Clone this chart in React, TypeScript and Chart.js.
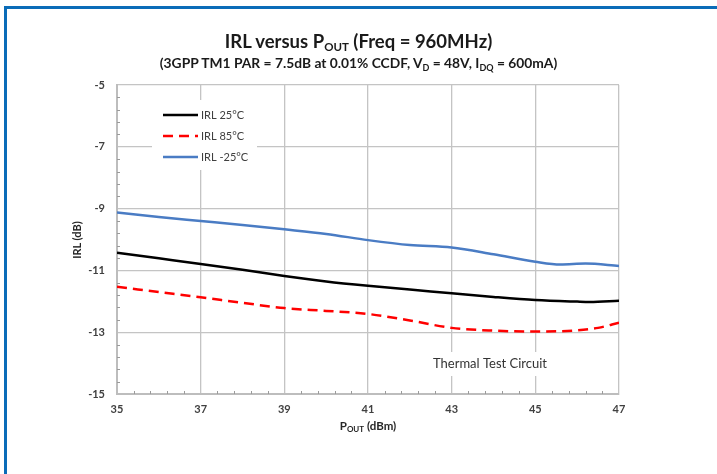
import React, { useEffect, useRef } from "react";
import { Chart, registerables } from "chart.js";
Chart.register(...registerables);

const xTicks = [35, 37, 39, 41, 43, 45, 47];
const yTicks = [-15, -13, -11, -9, -7, -5];

const pout25 = [35, 36, 37, 38, 39, 40, 41, 42, 43, 44, 45, 46, 46.3, 47];
const irl25 = [-10.43, -10.61, -10.79, -10.98, -11.18, -11.36, -11.5, -11.62, -11.74, -11.86, -11.96, -12.01, -12.02, -11.98];

const pout85 = [35, 36, 37, 38, 39, 40, 41, 42, 43, 44, 45, 46, 46.5, 47];
const irl85 = [-11.53, -11.7, -11.87, -12.05, -12.22, -12.31, -12.41, -12.62, -12.86, -12.95, -12.98, -12.94, -12.86, -12.69];

const poutM25 = [35, 36, 37, 38, 39, 40, 41, 42, 43, 44, 45, 45.6, 46.2, 47];
const irlM25 = [-9.13, -9.27, -9.4, -9.53, -9.67, -9.82, -10.02, -10.18, -10.26, -10.48, -10.72, -10.81, -10.78, -10.86];

const seriesNames = ["IRL 25°C", "IRL 85°C", "IRL -25°C"];
const annotationText = "Thermal Test Circuit";

const FONT = "Lato, 'Open Sans', sans-serif";

export default function App() {
  const ref = useRef<HTMLCanvasElement>(null);
  useEffect(() => {
    const canvas = ref.current!;
    const toPts = (xs: number[], ys: number[]) => xs.map((x, i) => ({ x, y: ys[i] }));

    const extras = {
      id: "extras",
      beforeDatasetsDraw(chart: any) {
        const { ctx, chartArea, scales } = chart;
        const xs = scales.x, ys = scales.y;
        ctx.save();
        ctx.strokeStyle = "#9a9a9a";
        ctx.lineWidth = 1;
        for (let i = 0; i <= 30; i++) {
          const v = 35 + i * 0.4;
          if (i % 5 === 0) continue;
          const px = Math.round(xs.getPixelForValue(v)) + 0.5;
          ctx.beginPath();
          ctx.moveTo(px, chartArea.bottom);
          ctx.lineTo(px, chartArea.bottom - 3);
          ctx.stroke();
        }
        for (let i = 0; i <= 25; i++) {
          const v = -15 + i * 0.4;
          if (i % 5 === 0) continue;
          const py = Math.round(ys.getPixelForValue(v)) + 0.5;
          ctx.beginPath();
          ctx.moveTo(chartArea.left, py);
          ctx.lineTo(chartArea.left + 3, py);
          ctx.stroke();
        }
        ctx.font = `13px ${FONT}`;
        const tw = ctx.measureText(annotationText).width;
        const cx = 490, cy = 364;
        ctx.fillStyle = "#ffffff";
        ctx.fillRect(cx - tw / 2 - 6, cy - 12, tw + 12, 24);
        ctx.fillStyle = "#333333";
        ctx.textAlign = "center";
        ctx.textBaseline = "middle";
        ctx.fillText(annotationText, cx, cy);
        ctx.restore();
      },
      afterDatasetsDraw(chart: any) {
        const { ctx } = chart;
        ctx.save();
        ctx.fillStyle = "#ffffff";
        ctx.fillRect(152, 100, 105, 70);
        const rows = [115, 136, 157];
        chart.data.datasets.forEach((ds: any, i: number) => {
          ctx.strokeStyle = ds.borderColor;
          ctx.lineWidth = ds.borderWidth;
          ctx.setLineDash(ds.borderDash || []);
          ctx.beginPath();
          ctx.moveTo(163, rows[i]);
          ctx.lineTo(198, rows[i]);
          ctx.stroke();
          ctx.setLineDash([]);
          ctx.fillStyle = "#404040";
          ctx.font = `11px ${FONT}`;
          ctx.textAlign = "left";
          ctx.textBaseline = "middle";
          ctx.fillText(ds.label, 201, rows[i] + 0.5);
        });
        ctx.restore();
      },
    };

    const chart = new Chart(canvas, {
      type: "line",
      data: {
        datasets: [
          {
            label: seriesNames[0],
            data: toPts(pout25, irl25),
            borderColor: "#000000",
            borderWidth: 2.5,
            pointRadius: 0,
            cubicInterpolationMode: "monotone",
          },
          {
            label: seriesNames[1],
            data: toPts(pout85, irl85),
            borderColor: "#ff0000",
            borderWidth: 2.5,
            borderDash: [10, 6],
            pointRadius: 0,
            cubicInterpolationMode: "monotone",
          },
          {
            label: seriesNames[2],
            data: toPts(poutM25, irlM25),
            borderColor: "#4a7cc4",
            borderWidth: 2.5,
            pointRadius: 0,
            cubicInterpolationMode: "monotone",
          },
        ],
      },
      options: {
        animation: false,
        responsive: false,
        devicePixelRatio: 1,
        layout: { padding: { left: 0, right: 98, top: 85, bottom: 0 } },
        plugins: { legend: { display: false }, title: { display: false }, tooltip: { enabled: false } },
        scales: {
          x: {
            type: "linear",
            min: 35,
            max: 47,
            afterFit: (s: any) => { s.height = 80; },
            afterBuildTicks: (s: any) => { s.ticks = xTicks.map((v) => ({ value: v })); },
            grid: { color: "#c4c4c4", lineWidth: 1.3, drawTicks: false },
            border: { color: "#bdbdbd", width: 2 },
            ticks: { padding: 9, color: "#404040", font: { family: FONT, size: 11, weight: "bold" } },
          },
          y: {
            type: "linear",
            min: -15,
            max: -5,
            afterFit: (s: any) => { s.width = 117; },
            afterBuildTicks: (s: any) => { s.ticks = yTicks.map((v) => ({ value: v })); },
            grid: { color: "#c4c4c4", lineWidth: 1.3, drawTicks: false },
            border: { color: "#bdbdbd", width: 2 },
            ticks: { padding: 12, color: "#404040", font: { family: FONT, size: 11, weight: "bold" } },
          },
        },
      },
      plugins: [extras],
    } as any);
    return () => chart.destroy();
  }, []);

  return (
    <div style={{ position: "fixed", left: 0, top: 0, width: 717, height: 474, background: "#fff", overflow: "hidden" }}>
      <div style={{ position: "absolute", left: 4, top: 6, right: -10, bottom: -10, borderTop: "3px solid #0a6cb8", borderLeft: "3px solid #0a6cb8" }} />
      <canvas ref={ref} width={717} height={474} style={{ position: "absolute", left: 0, top: 0, width: 717, height: 474 }} />
      <div style={{ position: "absolute", left: 0, width: 717, top: 30, textAlign: "center", fontFamily: FONT, fontWeight: "bold", fontSize: 18.5, color: "#1a1a1a", lineHeight: "22px" }}>
        IRL versus P<sub style={{ fontSize: 11.5, verticalAlign: "-3px", lineHeight: 0 }}>OUT</sub> (Freq = 960MHz)
      </div>
      <div style={{ position: "absolute", left: 0, width: 717, top: 55, textAlign: "center", fontFamily: FONT, fontWeight: "bold", fontSize: 13.8, color: "#1a1a1a", lineHeight: "16px" }}>
        (3GPP TM1 PAR = 7.5dB at 0.01% CCDF, V<sub style={{ fontSize: 9, verticalAlign: "-3px", lineHeight: 0 }}>D</sub> = 48V, I<sub style={{ fontSize: 9, verticalAlign: "-3px", lineHeight: 0 }}>DQ</sub> = 600mA)
      </div>
      <div style={{ position: "absolute", left: 368 - 60, width: 120, top: 418, textAlign: "center", fontFamily: FONT, fontWeight: "bold", fontSize: 11.5, color: "#262626", lineHeight: "15px" }}>
        P<sub style={{ fontSize: 8, verticalAlign: "-2px", lineHeight: 0 }}>OUT</sub> (dBm)
      </div>
      <div style={{ position: "absolute", left: 77 - 40, top: 240 - 8, width: 80, textAlign: "center", transform: "rotate(-90deg)", fontFamily: FONT, fontWeight: "bold", fontSize: 11, color: "#262626", lineHeight: "16px" }}>
        IRL (dB)
      </div>
    </div>
  );
}
